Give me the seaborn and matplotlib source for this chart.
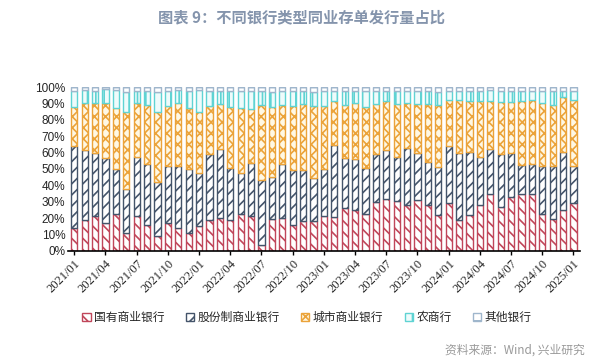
import numpy as np
import pandas as pd
import matplotlib
matplotlib.use("Agg")
import matplotlib.pyplot as plt
import seaborn as sns

# months 2021/01 .. 2025/01
months = [f"{y}/{m:02d}" for y in range(2021, 2026) for m in range(1, 13)][:49]

# share of issuance (%) by bank type
state = [14, 19, 21, 17, 22.7, 11, 21.5, 16, 9, 17, 14, 11, 15, 18.7, 20.3, 19, 22.3,
         21.2, 3.7, 19.3, 19.8, 15.8, 18.5, 18.3, 21.4, 20.7, 26, 24.8, 22.3, 30, 31.7,
         30.4, 28, 30.8, 28.2, 21.6, 29.2, 19, 21.6, 28, 34.5, 27, 32.7, 34.5, 34.5,
         22.8, 19.6, 24.8, 29]
joint = [50, 42.5, 38.5, 39.6, 27.3, 27, 35.8, 37, 33, 35, 37.5, 38.8, 32.3, 40.5, 41.7,
         31.5, 25, 32.5, 39.6, 25.7, 33.2, 33.7, 30.7, 26.2, 28.6, 43.8, 30.8, 31, 28.4,
         29.3, 29.8, 27.1, 34.8, 29, 26.2, 29.4, 34.8, 41, 38.7, 29.3, 27.5, 32, 27,
         17.7, 18.7, 29.2, 32.2, 35.5, 22.7]
city = [24, 28.5, 30.5, 33.4, 37, 47, 32.7, 36, 42.5, 36.7, 38.5, 37.2, 37.7, 29.4, 27.5,
        37.2, 39.7, 32.9, 45.7, 43, 36, 38.8, 40.6, 44, 38.4, 26.9, 32.2, 34.2, 37.1,
        30.2, 30.2, 32.4, 27.2, 29.7, 35.1, 38, 27.8, 32.2, 30.9, 34.3, 29.7, 32.1, 31.2,
        39.3, 38.8, 38.5, 37.4, 33.3, 40.2]
rural = [9.5, 8, 7.5, 8.5, 11, 12, 7.5, 8.5, 12.5, 8.8, 8, 10.5, 13, 8.9, 8, 9.8, 10.5,
         10.9, 8.5, 9, 8.5, 9.2, 7.7, 8.5, 9.1, 6.1, 8.5, 7.5, 9.7, 8, 5.8, 7.6, 7.5, 8,
         8, 8, 5.7, 5.3, 6.3, 5.9, 6.3, 6.4, 6.6, 6, 5.5, 7, 8.3, 3.9, 5.6]
other = [2.5, 2, 2.5, 1.5, 2, 3, 2.5, 2.5, 3, 2.5, 2, 2.5, 2, 2.5, 2.5, 2.5, 2.5, 2.5,
         2.5, 3, 2.5, 2.5, 2.5, 3, 2.5, 2.5, 2.5, 2.5, 2.5, 2.5, 2.5, 2.5, 2.5, 2.5, 2.5,
         3, 2.5, 2.5, 2.5, 2.5, 2, 2.5, 2.5, 2.5, 2.5, 2.5, 2.5, 2.5, 2.5]

series_names = ["国有商业银行", "股份制商业银行", "城市商业银行", "农商行", "其他银行"]
edge_colors = ["#c0465a", "#44546a", "#eba33a", "#5fd3d3", "#9fb6cc"]
face_colors = ["white", "white", "#fff8e4", "#effbfb", "white"]
hatches = ["\\\\\\", "///", "xxx", "||", "--"]

df = pd.DataFrame({"month": months, series_names[0]: state, series_names[1]: joint,
                   series_names[2]: city, series_names[3]: rural, series_names[4]: other})

sns.set_style("white")
plt.rcParams["font.family"] = ["Noto Sans CJK SC", "DejaVu Sans"]
plt.rcParams["hatch.linewidth"] = 1.2

fig = plt.figure(figsize=(6.02, 3.61), dpi=100)
ax = fig.add_axes([0.113, 0.305, 0.85, 0.454])

bottom = np.zeros(len(months))
for name, ec, fc, h in zip(series_names, edge_colors, face_colors, hatches):
    vals = df[name].to_numpy() / 100
    sns.barplot(x=df["month"], y=vals, bottom=bottom, width=0.6, ax=ax, color=ec,
                saturation=1, facecolor=fc, edgecolor=ec, hatch=h, linewidth=1.0)
    bottom = bottom + vals

ax.set_ylim(0, 1)
ax.set_xlim(-0.6, len(months) - 0.4)
ax.set_yticks(np.arange(0, 1.01, 0.1))
ax.set_yticklabels([f"{int(v)}%" for v in range(0, 101, 10)],
                   fontfamily="Liberation Sans", fontsize=8.5)
ax.set_xticks(range(0, len(months), 3))
ax.set_xticklabels(months[::3], rotation=45, ha="right", rotation_mode="anchor",
                   fontfamily="Liberation Serif", fontsize=9)
ax.tick_params(axis="x", length=3, width=1, color="black", pad=2, bottom=True)
ax.tick_params(axis="y", length=0, pad=2)
ax.set_xlabel("")
ax.set_ylabel("")
for s in ["left", "right", "top"]:
    ax.spines[s].set_visible(False)
ax.spines["bottom"].set_color("black")
ax.spines["bottom"].set_linewidth(1.2)

handles = [c.patches[0] for c in ax.containers]
fig.legend(handles, series_names, loc="center", bbox_to_anchor=(0.51, 0.12),
           ncol=5, frameon=False, fontsize=8.5, handlelength=0.7, handleheight=0.7,
           handletextpad=0.3, columnspacing=1.8)

fig.text(0.5, 0.953, "图表 9：不同银行类型同业存单发行量占比", ha="center", va="center",
         fontsize=11, fontweight="bold", color="#8494ac")
fig.text(0.972, 0.03, "资料来源：Wind, 兴业研究", ha="right", va="center",
         fontsize=8.5, color="#999999")

fig.savefig("out.png", dpi=100)
